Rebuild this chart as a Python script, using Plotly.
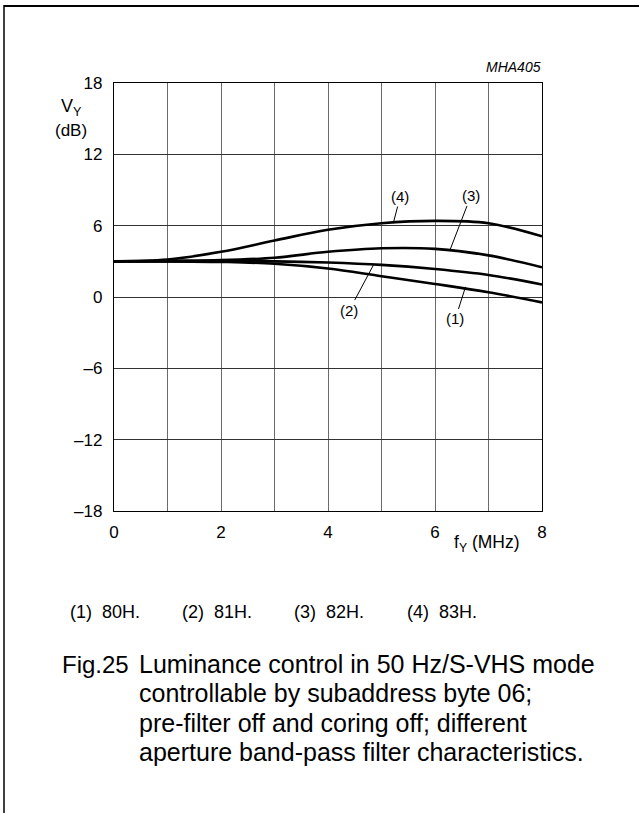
import plotly.graph_objects as go

# ---- data ----
freq_mhz = [0, 1, 2, 3, 4, 5, 6, 7, 8]
curve_1 = [3.0, 3.0, 2.95, 2.8, 2.4, 1.75, 1.1, 0.4, -0.45]
curve_2 = [3.0, 3.0, 3.0, 3.0, 2.9, 2.7, 2.35, 1.85, 1.05]
curve_3 = [3.0, 3.05, 3.1, 3.3, 3.8, 4.1, 4.05, 3.5, 2.5]
curve_4 = [3.0, 3.15, 3.8, 4.75, 5.65, 6.2, 6.4, 6.2, 5.1]
series = [("(1)", curve_1), ("(2)", curve_2), ("(3)", curve_3), ("(4)", curve_4)]

x_tickvals = [0, 2, 4, 6, 8]
x_ticktext = ["0", "2", "4", "6", "8"]
x_minor_vals = [1, 3, 5, 7]
y_tickvals = [-18, -12, -6, 0, 6, 12, 18]
y_ticktext = ["\u201318", "\u201312", "\u20136", "0", "6", "12", "18"]

# curve label text position and leader end point (data units)
label_text = ["(1)", "(2)", "(3)", "(4)"]
label_pos = [(6.38, -1.85), (4.40, -1.10), (6.67, 8.50), (5.35, 8.45)]
label_tip = [(6.57, 0.85), (4.86, 2.78), (6.28, 3.95), (5.22, 6.20)]

legend_items = ["(1)  80H.", "(2)  81H.", "(3)  82H.", "(4)  83H."]
caption_head = "Fig.25"
caption_lines = [
    "Luminance control in 50 Hz/S-VHS mode",
    "controllable by subaddress byte 06;",
    "pre-filter off and coring off; different",
    "aperture band-pass filter characteristics.",
]

FONT = "Liberation Sans, Arial, sans-serif"
W, H = 639, 813
L, R, T, B = 114, 542, 83, 511


def px(xp):
    return (xp - L) / (R - L)


def py(yp):
    return (B - yp) / (B - T)


def text_at(xp, yp, text, size, xanchor="center"):
    return dict(x=px(xp), y=py(yp), xref="paper", yref="paper",
                xanchor=xanchor, yanchor="middle", text=text, showarrow=False,
                font=dict(family=FONT, size=size, color="black"))


fig = go.Figure()
for name, vals in series:
    fig.add_trace(go.Scatter(
        x=freq_mhz, y=vals, mode="lines", name=name,
        line=dict(color="black", width=2.6, shape="spline", smoothing=1.0),
        showlegend=False, hoverinfo="skip"))

annotations = []
for t, (tx, ty), (hx, hy) in zip(label_text, label_pos, label_tip):
    annotations.append(dict(
        x=hx, y=hy, ax=tx, ay=ty, xref="x", yref="y", axref="x", ayref="y",
        text=t, showarrow=True, arrowhead=0, arrowwidth=1, arrowcolor="black",
        font=dict(family=FONT, size=15, color="black")))

# axis titles
annotations.append(text_at(71, 107, "V<sub>Y</sub>", 18))
annotations.append(text_at(71, 130, "(dB)", 17))
annotations.append(text_at(487, 543, "f<sub>Y</sub> (MHz)", 17.5))
annotations.append(text_at(543, 67, "<i>MHA405</i>", 14, xanchor="right"))

# legend line
leg_x = [68, 180, 292, 405]
for t, xx in zip(legend_items, leg_x):
    annotations.append(text_at(xx, 612, t, 18, xanchor="left"))

# caption
annotations.append(text_at(60, 664, caption_head, 24, xanchor="left"))
for i, line in enumerate(caption_lines):
    annotations.append(text_at(137, 664 + 29.4 * i, line, 25, xanchor="left"))

shapes = [
    dict(type="line", xref="paper", yref="paper", x0=px(4), x1=px(640), y0=py(6), y1=py(6),
         line=dict(color="black", width=2)),
    dict(type="line", xref="paper", yref="paper", x0=px(4), x1=px(4), y0=py(5), y1=py(815),
         line=dict(color="black", width=1.5)),
]

fig.update_layout(
    width=W, height=H,
    margin=dict(l=L, r=W - R, t=T, b=H - B, pad=0),
    paper_bgcolor="white", plot_bgcolor="white",
    annotations=annotations, shapes=shapes,
    font=dict(family=FONT, size=17, color="black"),
    hovermode=False,
)
fig.update_xaxes(range=[0, 8], tickvals=x_tickvals, ticktext=x_ticktext,
                 showgrid=True, gridcolor="#6a6a6a", gridwidth=1,
                 minor=dict(tickvals=x_minor_vals, showgrid=True,
                            gridcolor="#6a6a6a", gridwidth=1, ticks=""),
                 showline=True, linecolor="black", linewidth=1.2, mirror=True,
                 ticks="", zeroline=False, ticklabelstandoff=5,
                 tickfont=dict(family=FONT, size=17, color="black"))
fig.update_yaxes(range=[-18, 18], tickvals=y_tickvals, ticktext=y_ticktext,
                 showgrid=True, gridcolor="#333333", gridwidth=1,
                 showline=True, linecolor="black", linewidth=1.2, mirror=True,
                 ticks="", zeroline=False, ticklabelstandoff=7,
                 tickfont=dict(family=FONT, size=17, color="black"))

fig.write_html(
    "out.html",
    config={"displayModeBar": False, "staticPlot": True},
    post_script="document.body.style.margin='0';"
                "document.body.style.overflow='hidden';"
                "document.documentElement.style.overflow='hidden';",
)
